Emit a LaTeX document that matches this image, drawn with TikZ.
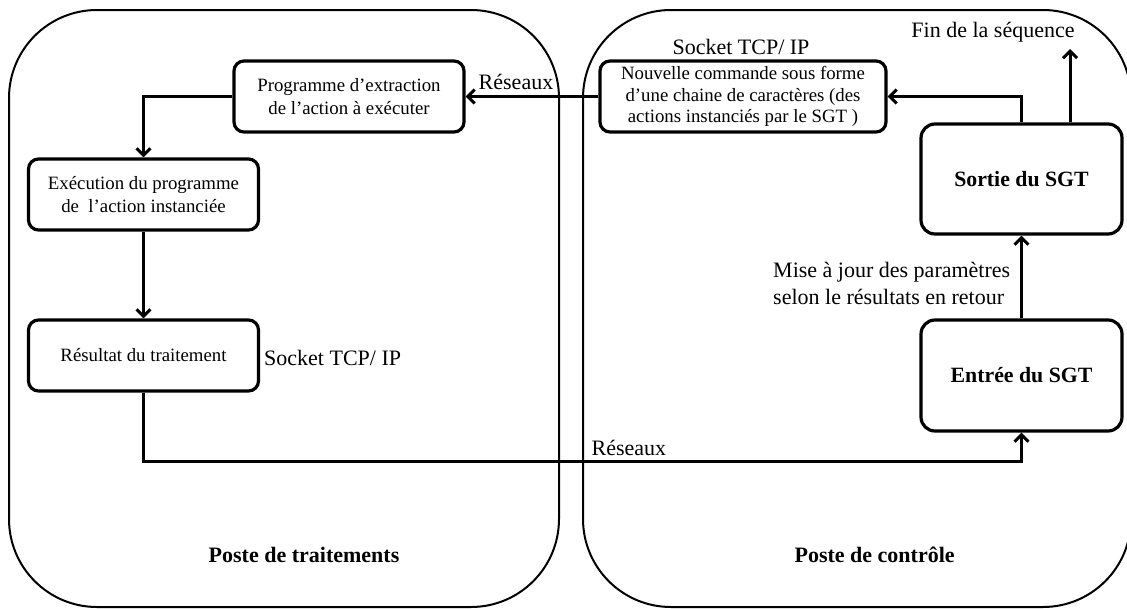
\documentclass[tikz,border=0pt]{standalone}
\usepackage{fontspec}
\setmainfont{Liberation Serif}
\usetikzlibrary{arrows.meta}
\begin{document}
\begin{tikzpicture}[x=1pt,y=-1pt,
  cont/.style={draw, line width=2pt, rounded corners=88pt},
  box/.style={draw, line width=3.2pt, rounded corners=10pt, align=center, font=\fontsize{18.8}{22.5}\selectfont, inner sep=0pt},
  bigbox/.style={draw, line width=3.2pt, rounded corners=14pt, align=center, font=\fontsize{21.8}{26}\selectfont\bfseries, inner sep=0pt},
  lbl/.style={inner sep=0pt, font=\fontsize{22}{27}\selectfont},
  title/.style={inner sep=0pt, font=\fontsize{22}{27}\selectfont\bfseries},
  arr/.style={line width=3pt, -{Straight Barb[length=7pt,width=14pt]}}
]
\useasboundingbox (0,0) rectangle (1127,608);
\draw[cont] (9,10) rectangle (559,607);
\draw[cont] (583,10) rectangle (1131,607);

\node[box, minimum width=230pt, minimum height=71pt] (prog) at (349,96.5) {Programme d’extraction\\de l’action à exécuter};
\node[box, minimum width=230pt, minimum height=71pt] (exec) at (143.5,194.5) {Exécution du programme\\de\ \ l’action instanciée};
\node[box, minimum width=230pt, minimum height=71pt] (res) at (143.5,355.5) {Résultat du traitement};
\node[box, minimum width=286pt, minimum height=71pt, font=\fontsize{18.8}{21.5}\selectfont] (nouv) at (743,96.5) {Nouvelle commande sous forme\\d’une chaine de caractères (des\\actions instanciés par le SGT )};
\node[bigbox, minimum width=201pt, minimum height=110pt] (sortie) at (1021.5,179) {Sortie du SGT};
\node[bigbox, minimum width=201pt, minimum height=111pt] (entree) at (1021.5,375.5) {Entrée du SGT};

\coordinate (fin) at (1070,49);
\draw[arr] (nouv.west) -- (prog.east);
\draw[arr] (prog.west) -| (exec.north);
\draw[arr] (exec.south) -- (res.north);
\draw[arr] (res.south) -- ++(0,69) -| (entree.south);
\draw[arr] (entree.north) -- (sortie.south);
\draw[arr] (sortie.north) |- (nouv.east);
\draw[arr] (sortie.north -| fin) -- (fin);

\node[lbl] (r1) at (516,82) {Réseaux};
\node[lbl] (s1) at (741,47) {Socket TCP/ IP};
\node[lbl, anchor=west] (s2) at (264,358) {Socket TCP/ IP};
\node[lbl] (f1) at (993,32) {Fin de la séquence};
\node[lbl, anchor=west, align=left] (m1) at (773,283.5) {Mise à jour des paramètres\\selon le résultats en retour};
\node[lbl, anchor=west] (r2) at (591.5,448) {Réseaux};
\node[title] (t1) at (304,555) {Poste de traitements};
\node[title] (t2) at (874.6,555) {Poste de contrôle};
\end{tikzpicture}
\end{document}
